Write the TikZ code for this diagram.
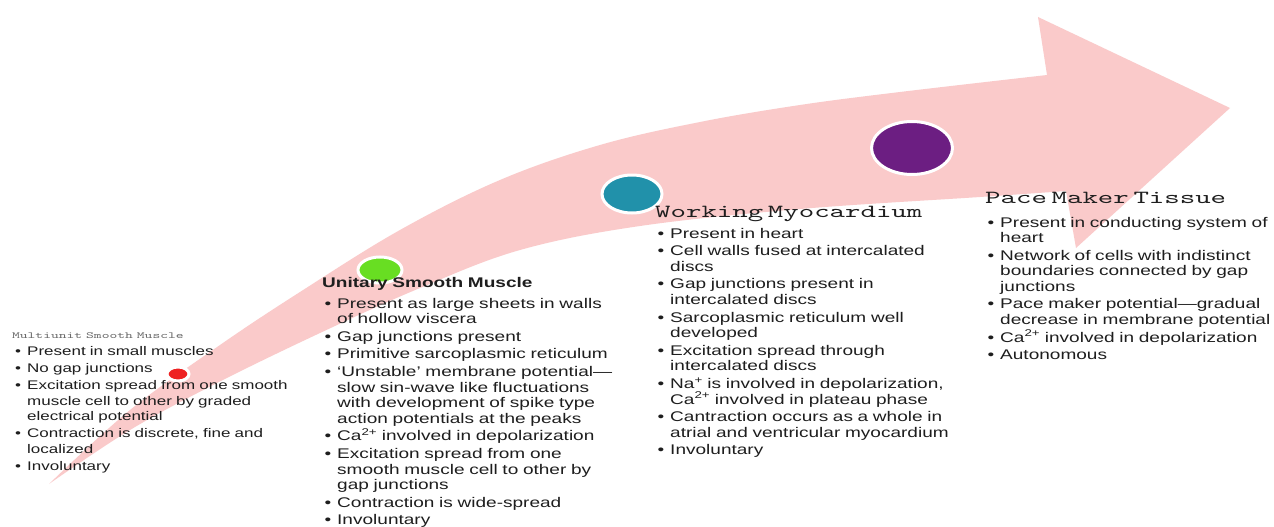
\documentclass[tikz,border=0pt]{standalone}
\usepackage{fontspec}
\setmainfont{Liberation Sans}[FakeStretch=1.36]
\newfontfamily\titlefont{lmmono10-regular.otf}[FakeStretch=1.59]
\usepackage{enumitem}
\usetikzlibrary{shapes.geometric}

\definecolor{bandpink}{RGB}{250,202,202}
\definecolor{inkgray}{RGB}{30,30,30}
\definecolor{dotred}{RGB}{238,34,34}
\definecolor{dotgreen}{RGB}{104,222,34}
\definecolor{dotteal}{RGB}{33,145,170}
\definecolor{dotpurple}{RGB}{108,30,130}

\newlist{facts}{itemize}{1}
\setlist[facts]{label=\textbullet,leftmargin=15pt,labelsep=6pt,itemsep=2.2pt,parsep=0pt,topsep=5.5pt,partopsep=0pt}

\begin{document}
\begin{tikzpicture}[x=1pt,y=-1pt,
    dot/.style={ellipse,draw=white,line width=3pt,inner sep=0pt},
    block/.style={anchor=base west,inner sep=0pt,text width=330pt,align=left,text=inkgray,
      font=\fontsize{14}{15.5}\selectfont}]
  \fill[white] (0,0) rectangle (1274,527);
  \useasboundingbox (0,0) rectangle (1274,527);

  \fill[bandpink] plot[smooth,tension=0.6] coordinates {(49,484) (130,410) (220,345) (300,292)
      (400,230) (500,180) (600,145) (700,122) (800,105) (900,92) (1047,75)}
    -- (1038,17) -- (1230,108) -- (1076,248) -- (1066,191)
    -- plot[smooth,tension=0.6] coordinates {(1066,191) (980,197) (800,209) (640,226)
      (520,250) (420,288) (320,333) (217,383) (130,430) (49,484)} -- cycle;

  \node[dot,fill=dotred,minimum width=22pt,minimum height=14pt] (d1) at (178,374) {};
  \node[dot,fill=dotgreen,minimum width=44pt,minimum height=26pt] (d2) at (380,270) {};
  \node[dot,fill=dotteal,minimum width=60pt,minimum height=38pt] (d3) at (632,194) {};
  \node[dot,fill=dotpurple,minimum width=81pt,minimum height=53pt] (d4) at (912,148) {};

  \node[block,font=\fontsize{12.5}{15.5}\selectfont] (multi) at (12,338) {%
    {\titlefont\fontsize{9.3}{11}\selectfont\color{gray!80!black}Multiunit Smooth Muscle\par}
    \begin{facts}[topsep=2pt,itemsep=1.5pt]
      \item Present in small muscles
      \item No gap junctions
      \item Excitation spread from one smooth\newline muscle cell to other by graded\newline electrical potential
      \item Contraction is discrete, fine and\newline localized
      \item Involuntary
    \end{facts}};

  \node[block] (unitary) at (322,287) {%
    {\bfseries Unitary Smooth Muscle\par}
    \begin{facts}
      \item Present as large sheets in walls\newline of hollow viscera
      \item Gap junctions present
      \item Primitive sarcoplasmic reticulum
      \item `Unstable' membrane potential—\newline slow sin-wave like fluctuations\newline with development of spike type\newline action potentials at the peaks
      \item Ca\textsuperscript{2+} involved in depolarization
      \item Excitation spread from one\newline smooth muscle cell to other by\newline gap junctions
      \item Contraction is wide-spread
      \item Involuntary
    \end{facts}};

  \node[block] (working) at (655,217) {%
    {\titlefont\fontsize{18.5}{20}\selectfont Working Myocardium\par}
    \begin{facts}
      \item Present in heart
      \item Cell walls fused at intercalated\newline discs
      \item Gap junctions present in\newline intercalated discs
      \item Sarcoplasmic reticulum well\newline developed
      \item Excitation spread through\newline intercalated discs
      \item Na\textsuperscript{+} is involved in depolarization,\newline Ca\textsuperscript{2+} involved in plateau phase
      \item Cantraction occurs as a whole in\newline atrial and ventricular myocardium
      \item Involuntary
    \end{facts}};

  \node[block] (pace) at (985,203) {%
    {\titlefont\fontsize{18.5}{20}\selectfont Pace Maker Tissue\par}
    \begin{facts}[topsep=8.5pt]
      \item Present in conducting system of\newline heart
      \item Network of cells with indistinct\newline boundaries connected by gap\newline junctions
      \item Pace maker potential—gradual\newline decrease in membrane potential
      \item Ca\textsuperscript{2+} involved in depolarization
      \item Autonomous
    \end{facts}};
\end{tikzpicture}
\end{document}
